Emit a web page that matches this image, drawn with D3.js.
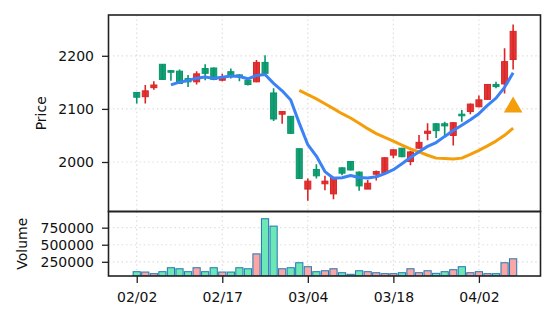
<!DOCTYPE html>
<html><head><meta charset="utf-8">
<script src="https://cdn.jsdelivr.net/npm/d3@7"></script>
<style>html,body{margin:0;padding:0;background:#fff;} svg{display:block;font-family:"DejaVu Sans",sans-serif;}</style>
</head><body><svg id="c" width="556" height="322"></svg>
<script>
const dates = ["02/02","02/03","02/04","02/05","02/06","02/09","02/10","02/11","02/12","02/13",
  "02/17","02/18","02/19","02/20","02/23","02/24","02/25","02/26","02/27","03/03",
  "03/04","03/05","03/06","03/09","03/10","03/11","03/12","03/13","03/16","03/17",
  "03/18","03/19","03/20","03/23","03/24","03/25","03/26","03/27","03/30","03/31",
  "04/02","04/03","04/06","04/07","04/08"];
const opens  = [2131,2123,2140,2184,2172,2171,2157,2151,2176,2177,2154,2170,2164,2154,2151,2187.5,2130,2090,2086,2025,
  1949,1986,1959,1940,1989,2001,1981,1949,1977,1980,2013,2026,2001,2026,2054,2072,2072,2050,2090,2095,2104,2118,2146,2147,2193];
const highs  = [2132,2145,2152,2184,2173,2174,2164,2171,2184,2178,2166,2176,2165,2157,2192,2201,2139,2095,2086,2025,
  1969,1996,1974,1972,1990,2002,1982,1966,1984,2009,2024,2026,2021,2051,2073,2073,2076,2075,2098,2110,2125,2147,2151,2214,2259];
const lows   = [2110,2110,2136,2155,2153,2148,2141,2146,2154,2154,2152,2157,2152,2144,2150,2166,2077,2072,2053,1969,
  1927,1969,1947,1930,1975,1984,1946,1949,1965,1979,2007,2009,1994,2025,2041,2045,2048,2031,2076,2090,2103,2117,2139,2129,2174];
const closes = [2122,2134,2145,2155.5,2169,2148,2151,2166,2167,2155.5,2159,2162,2161,2146,2187.5,2167,2081,2095,2054,1969,
  1964,1974,1964,1971,1979,1985,1955,1960,1982,2008,2023,2010,2019,2037,2058,2059,2068,2074,2087,2109,2117,2146,2142,2189,2246];
const volumes = [105000,100000,76000,105000,163000,148000,105000,163000,105000,163000,100000,100000,163000,148000,366000,881000,773000,148000,163000,236000,
  178000,105000,119000,148000,90000,67000,119000,105000,90000,76000,76000,90000,148000,90000,119000,81000,105000,134000,178000,90000,105000,76000,76000,236000,294000];
const ma5 = [null,null,null,null,2145.1,2150.3,2153.7,2157.9,2160.2,2157.5,2159.7,2161.9,2160.9,2156.7,2163.1,2164.7,2148,2134,2116.9,2073.2,
  2032.6,2011.2,1982,1969.5,1970.4,1974.6,1970.8,1970,1972.2,1978,1985.6,1996.6,2008.4,2019.4,2029.4,2036.6,2048.2,2059.2,2069.2,2079.4,2091,2106.6,2120.2,2140.6,2168];
const ma20 = [null,null,null,null,null,null,null,null,null,null,null,null,null,null,null,null,null,null,null,2134.7,
  2126.8,2118.8,2109.8,2100.5,2091,2082.9,2073.1,2062.8,2053.5,2046.2,2039.4,2031.8,2024.7,2019.2,2012.7,2007.3,2006.7,2005.6,2007.3,2014.3,2021.9,2030.5,2039.4,2050.3,2063.7];
const signalIdx = [44];
const signalPrice = [2106];
const priceTicks = [2000,2100,2200];
const volumeTicks = [250000,500000,750000];
const dateTickIdx = [0,10,20,30,40];

const C = {up:"#dc2626", down:"#059669", volUp:"#fca5a5", volDown:"#6ee7b7", volEdge:"#1f77b4",
  ma5:"#3b82f6", ma20:"#f59e0b", sig:"#f59e0b", frame:"#222", grid:"#dcdcdc"};
const L = {left:108.5, right:540.5, pTop:15, pBot:211.5, vTop:211.5, vBot:276};

const svg = d3.select("#c");
const x = d3.scaleLinear().domain([-3.3, 47.2]).range([L.left, L.right]);
const yP = d3.scaleLinear().domain([1906.8, 2276.8]).range([L.pBot, L.pTop]);
const yV = d3.scaleLinear().domain([42000, 987000]).range([L.vBot, L.vTop]);
const idx = d3.range(dates.length);

svg.append("defs").call(d=>{
  d.append("clipPath").attr("id","cp").append("rect").attr("x",L.left).attr("y",L.pTop).attr("width",L.right-L.left).attr("height",L.pBot-L.pTop);
  d.append("clipPath").attr("id","cv").append("rect").attr("x",L.left).attr("y",L.vTop).attr("width",L.right-L.left).attr("height",L.vBot-L.vTop);
});

// grids
const grid = svg.append("g").attr("stroke",C.grid).attr("stroke-width",1.2).attr("stroke-dasharray","1.4,3");
dateTickIdx.forEach(i=>{
  grid.append("line").attr("x1",x(i)).attr("x2",x(i)).attr("y1",L.pTop).attr("y2",L.pBot);
  grid.append("line").attr("x1",x(i)).attr("x2",x(i)).attr("y1",L.vTop).attr("y2",L.vBot);
});
priceTicks.forEach(v=>grid.append("line").attr("x1",L.left).attr("x2",L.right).attr("y1",yP(v)).attr("y2",yP(v)));
volumeTicks.forEach(v=>grid.append("line").attr("x1",L.left).attr("x2",L.right).attr("y1",yV(v)).attr("y2",yV(v)));

// candles
const cg = svg.append("g").attr("clip-path","url(#cp)");
const bw = 6;
idx.forEach(i=>{
  const up = closes[i] >= opens[i];
  const col = up ? C.up : C.down;
  cg.append("line").attr("x1",x(i)).attr("x2",x(i)).attr("y1",yP(highs[i])).attr("y2",yP(lows[i]))
    .attr("stroke",col).attr("stroke-width",1.6);
  const t = yP(Math.max(opens[i],closes[i])), b = yP(Math.min(opens[i],closes[i]));
  cg.append("rect").attr("x",x(i)-bw/2).attr("y",t).attr("width",bw).attr("height",Math.max(1,b-t))
    .attr("fill",col).attr("fill-opacity",0.92).attr("stroke",col).attr("stroke-width",1);
});

// moving averages
const mkLine = arr => d3.line().defined(i=>arr[i]!=null).x(i=>x(i)).y(i=>yP(arr[i]));
cg.append("path").attr("d",mkLine(ma20)(idx)).attr("fill","none").attr("stroke",C.ma20).attr("stroke-width",3).attr("stroke-linejoin","round").attr("stroke-linecap","butt");
cg.append("path").attr("d",mkLine(ma5)(idx)).attr("fill","none").attr("stroke",C.ma5).attr("stroke-width",3).attr("stroke-linejoin","round").attr("stroke-linecap","butt");

// signal marker
signalIdx.forEach((i,k)=>{
  const cx = x(i), cy = yP(signalPrice[k]);
  cg.append("path").attr("d",d3.symbol().type(d3.symbolTriangle).size(150)())
    .attr("transform",`translate(${cx},${cy+1.5})`).attr("fill",C.sig);
});

// volume bars
const vg = svg.append("g").attr("clip-path","url(#cv)");
idx.forEach(i=>{
  const up = closes[i] >= opens[i];
  vg.append("rect").attr("x",x(i)-3.6).attr("width",7.2).attr("y",yV(volumes[i])).attr("height",L.vBot-yV(volumes[i]))
    .attr("fill",up?C.volUp:C.volDown).attr("stroke",C.volEdge).attr("stroke-width",1);
});

// axes
function styleAxis(g){
  g.select(".domain").remove();
  g.selectAll(".tick line").attr("stroke",C.frame).attr("stroke-width",1.3);
  g.selectAll(".tick text").attr("fill","#111").attr("font-size","14px").attr("font-family","DejaVu Sans");
}
svg.append("g").attr("transform",`translate(${L.left},0)`)
  .call(d3.axisLeft(yP).tickValues(priceTicks).tickSize(6.5).tickPadding(8).tickFormat(d3.format("d"))).call(styleAxis);
svg.append("g").attr("transform",`translate(${L.left},0)`)
  .call(d3.axisLeft(yV).tickValues(volumeTicks).tickSize(6.5).tickPadding(8).tickFormat(d3.format("d"))).call(styleAxis);
svg.append("g").attr("transform",`translate(0,${L.vBot})`)
  .call(d3.axisBottom(x).tickValues(dateTickIdx).tickSize(7).tickPadding(9.5).tickFormat(i=>dates[i])).call(styleAxis);

// frames
svg.append("rect").attr("x",L.left).attr("y",L.pTop).attr("width",L.right-L.left).attr("height",L.pBot-L.pTop)
  .attr("fill","none").attr("stroke",C.frame).attr("stroke-width",1.6);
svg.append("rect").attr("x",L.left).attr("y",L.vTop).attr("width",L.right-L.left).attr("height",L.vBot-L.vTop)
  .attr("fill","none").attr("stroke",C.frame).attr("stroke-width",1.6);

// axis titles
svg.append("text").attr("transform",`translate(46,${(L.pTop+L.pBot)/2}) rotate(-90)`).attr("text-anchor","middle")
  .attr("font-size","14px").attr("fill","#111").text("Price");
svg.append("text").attr("transform",`translate(26.5,${(L.vTop+L.vBot)/2}) rotate(-90)`).attr("text-anchor","middle")
  .attr("font-size","14px").attr("fill","#111").text("Volume");
</script></body></html>
